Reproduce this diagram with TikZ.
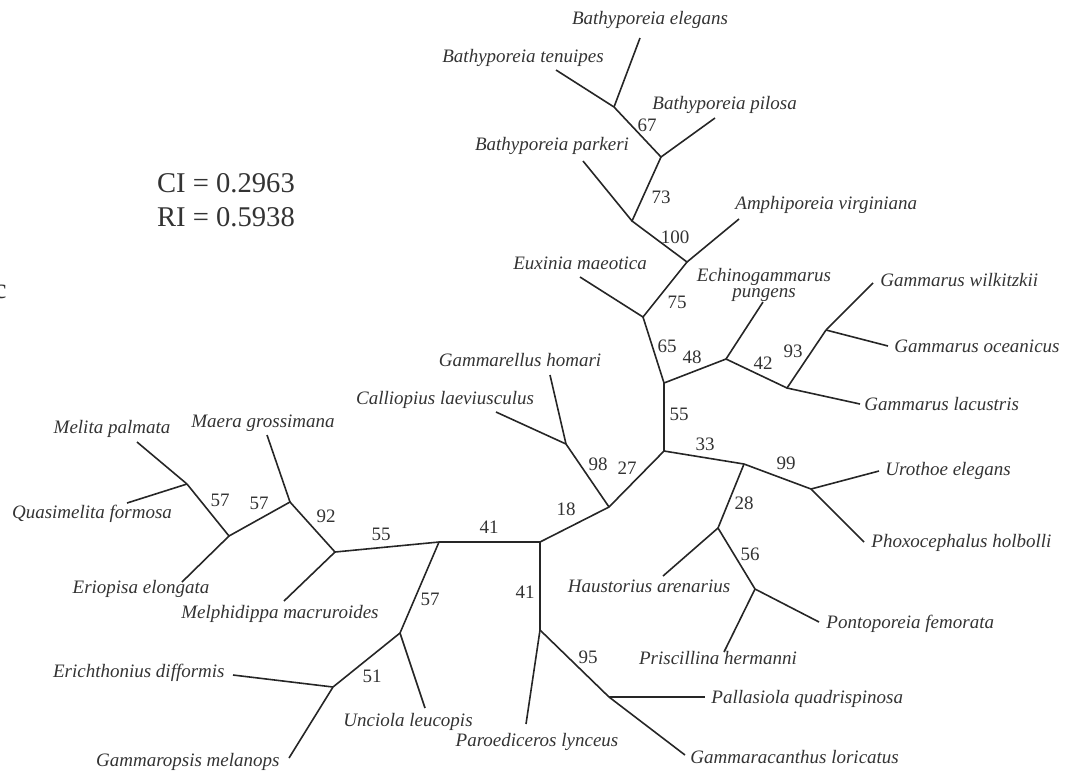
\documentclass[tikz,border=0pt]{standalone}
\usepackage{fontspec}
\setmainfont{Liberation Serif}
\begin{document}
\begin{tikzpicture}[x=0.5pt, y=-0.5pt,
        branch/.style={line width=0.8pt, black!85},
        taxon/.style={font=\fontsize{9.5}{8}\selectfont\itshape, text=black!80, inner sep=0pt},
        boot/.style={font=\fontsize{9.5}{11}\selectfont, text=black!80, inner sep=0pt},
        stat/.style={font=\fontsize{14.3}{16}\selectfont, text=black!80, inner sep=0pt}]
        \useasboundingbox (0,0) rectangle (1079,773);

        % Inner nodes
        \coordinate (A) at (614,107);
        \coordinate (B) at (661,157);
        \coordinate (C) at (632,221);
        \coordinate (D) at (687,262);
        \coordinate (E) at (643,317);
        \coordinate (F) at (664,383);
        \coordinate (G) at (726,359);
        \coordinate (H) at (787,388);
        \coordinate (I) at (826,330);
        \coordinate (J) at (664,451);
        \coordinate (K) at (744,464);
        \coordinate (L) at (811,489);
        \coordinate (M) at (718,528);
        \coordinate (N) at (755,589);
        \coordinate (O) at (609,507);
        \coordinate (P) at (566,444);
        \coordinate (Q) at (540,542);
        \coordinate (R) at (540,630);
        \coordinate (S) at (609,697);
        \coordinate (T) at (187,484);
        \coordinate (U) at (229,536);
        \coordinate (V) at (290,502);
        \coordinate (W) at (335,552);
        \coordinate (X) at (439,542);
        \coordinate (Y) at (400,633);
        \coordinate (Z) at (333,687);

        % Tips
        \coordinate (elegansEnd) at (640,38);
        \coordinate (tenuipesEnd) at (556,70);
        \coordinate (pilosaEnd) at (715,118);
        \coordinate (parkeriEnd) at (583,161);
        \coordinate (amphiEnd) at (739,219);
        \coordinate (euxiniaEnd) at (580,277);
        \coordinate (echinoEnd) at (763,302);
        \coordinate (wilkitzkiiEnd) at (873,283);
        \coordinate (oceanicusEnd) at (888,346);
        \coordinate (lacustrisEnd) at (860,404);
        \coordinate (urothoeEnd) at (879,471);
        \coordinate (phoxoEnd) at (864,542);
        \coordinate (haustoriusEnd) at (663,576);
        \coordinate (pontoporeiaEnd) at (819,622);
        \coordinate (priscillinaEnd) at (724,652);
        \coordinate (homariEnd) at (550,375);
        \coordinate (calliopiusEnd) at (496,412);
        \coordinate (paroedicerosEnd) at (526,724);
        \coordinate (pallasiolaEnd) at (705,697);
        \coordinate (gammaracanthusEnd) at (685,755);
        \coordinate (melitaEnd) at (137,442);
        \coordinate (quasimelitaEnd) at (127,503);
        \coordinate (eriopisaEnd) at (182,582);
        \coordinate (maeraEnd) at (267,435);
        \coordinate (melphidippaEnd) at (284,601);
        \coordinate (unciolaEnd) at (425,708);
        \coordinate (erichthoniusEnd) at (233,675);
        \coordinate (gammaropsisEnd) at (289,758);

        % Internal branches
        \draw[branch] (A) -- (B) -- (C) -- (D) -- (E) -- (F) -- (J) -- (O) -- (Q) -- (X) -- (W) -- (V) -- (U) -- (T);
        \draw[branch] (F) -- (G) -- (H) -- (I);
        \draw[branch] (J) -- (K) -- (L);
        \draw[branch] (K) -- (M) -- (N);
        \draw[branch] (O) -- (P);
        \draw[branch] (Q) -- (R) -- (S);
        \draw[branch] (X) -- (Y) -- (Z);

        % Terminal branches
        \draw[branch] (A) -- (elegansEnd);
        \draw[branch] (A) -- (tenuipesEnd);
        \draw[branch] (B) -- (pilosaEnd);
        \draw[branch] (C) -- (parkeriEnd);
        \draw[branch] (D) -- (amphiEnd);
        \draw[branch] (E) -- (euxiniaEnd);
        \draw[branch] (G) -- (echinoEnd);
        \draw[branch] (I) -- (wilkitzkiiEnd);
        \draw[branch] (I) -- (oceanicusEnd);
        \draw[branch] (H) -- (lacustrisEnd);
        \draw[branch] (L) -- (urothoeEnd);
        \draw[branch] (L) -- (phoxoEnd);
        \draw[branch] (M) -- (haustoriusEnd);
        \draw[branch] (N) -- (pontoporeiaEnd);
        \draw[branch] (N) -- (priscillinaEnd);
        \draw[branch] (P) -- (homariEnd);
        \draw[branch] (P) -- (calliopiusEnd);
        \draw[branch] (R) -- (paroedicerosEnd);
        \draw[branch] (S) -- (pallasiolaEnd);
        \draw[branch] (S) -- (gammaracanthusEnd);
        \draw[branch] (T) -- (melitaEnd);
        \draw[branch] (T) -- (quasimelitaEnd);
        \draw[branch] (U) -- (eriopisaEnd);
        \draw[branch] (V) -- (maeraEnd);
        \draw[branch] (W) -- (melphidippaEnd);
        \draw[branch] (Y) -- (unciolaEnd);
        \draw[branch] (Z) -- (erichthoniusEnd);
        \draw[branch] (Z) -- (gammaropsisEnd);

        % Taxa
        \node[taxon] (elegans) at (650,20) {Bathyporeia elegans};
        \node[taxon] (tenuipes) at (523,58) {Bathyporeia tenuipes};
        \node[taxon, anchor=west] (pilosa) at (652,105) {Bathyporeia pilosa};
        \node[taxon] (parkeri) at (552,146) {Bathyporeia parkeri};
        \node[taxon, anchor=west] (amphi) at (735,205) {Amphiporeia virginiana};
        \node[taxon] (euxinia) at (580,263) {Euxinia maeotica};
        \node[taxon, align=center] (echino) at (764,285) {Echinogammarus\\pungens};
        \node[taxon, anchor=west] (wilkitzkii) at (880,280) {Gammarus wilkitzkii};
        \node[taxon, anchor=west] (oceanicus) at (894,346) {Gammarus oceanicus};
        \node[taxon, anchor=west] (lacustris) at (864,404) {Gammarus lacustris};
        \node[taxon] (homari) at (520,360) {Gammarellus homari};
        \node[taxon] (calliopius) at (445,400) {Calliopius laeviusculus};
        \node[taxon, anchor=west] (urothoe) at (885,471) {Urothoe elegans};
        \node[taxon, anchor=west] (phoxo) at (871,543) {Phoxocephalus holbolli};
        \node[taxon] (haustorius) at (649,586) {Haustorius arenarius};
        \node[taxon, anchor=west] (pontoporeia) at (826,624) {Pontoporeia femorata};
        \node[taxon] (priscillina) at (718,658) {Priscillina hermanni};
        \node[taxon, anchor=west] (pallasiola) at (711,699) {Pallasiola quadrispinosa};
        \node[taxon, anchor=west] (gammaracanthus) at (690,757) {Gammaracanthus loricatus};
        \node[taxon] (paroediceros) at (537,742) {Paroediceros lynceus};
        \node[taxon] (melita) at (112,429) {Melita palmata};
        \node[taxon] (quasimelita) at (92,514) {Quasimelita formosa};
        \node[taxon] (eriopisa) at (141,589) {Eriopisa elongata};
        \node[taxon] (maera) at (263,423) {Maera grossimana};
        \node[taxon] (melphidippa) at (280,614) {Melphidippa macruroides};
        \node[taxon] (unciola) at (408,722) {Unciola leucopis};
        \node[taxon, anchor=east] (erichthonius) at (225,673) {Erichthonius difformis};
        \node[taxon, anchor=east] (gammaropsis) at (280,762) {Gammaropsis melanops};

        % Bootstrap values
        \node[boot] (b67) at (647,125) {67};
        \node[boot] (b73) at (661,197) {73};
        \node[boot] (b100) at (675,237) {100};
        \node[boot] (b75) at (677,302) {75};
        \node[boot] (b65) at (667,346) {65};
        \node[boot] (b48) at (692,357) {48};
        \node[boot] (b42) at (763,363) {42};
        \node[boot] (b93) at (793,351) {93};
        \node[boot] (b55a) at (679,414) {55};
        \node[boot] (b33) at (705,444) {33};
        \node[boot] (b99) at (786,463) {99};
        \node[boot] (b28) at (744,503) {28};
        \node[boot] (b56) at (750,554) {56};
        \node[boot] (b95) at (588,657) {95};
        \node[boot] (b27) at (627,468) {27};
        \node[boot] (b98) at (598,464) {98};
        \node[boot] (b18) at (566,509) {18};
        \node[boot] (b41a) at (525,592) {41};
        \node[boot] (b41b) at (489,527) {41};
        \node[boot] (b55b) at (381,534) {55};
        \node[boot] (b92) at (326,516) {92};
        \node[boot] (b57a) at (220,500) {57};
        \node[boot] (b57b) at (259,503) {57};
        \node[boot] (b57c) at (430,599) {57};
        \node[boot] (b51) at (372,676) {51};

        % Indices
        \node[stat] (ci) at (226,183) {CI = 0.2963};
        \node[stat] (ri) at (226,217) {RI = 0.5938};
        \node[stat, anchor=east] (panel) at (7,292) {c};
\end{tikzpicture}
\end{document}
